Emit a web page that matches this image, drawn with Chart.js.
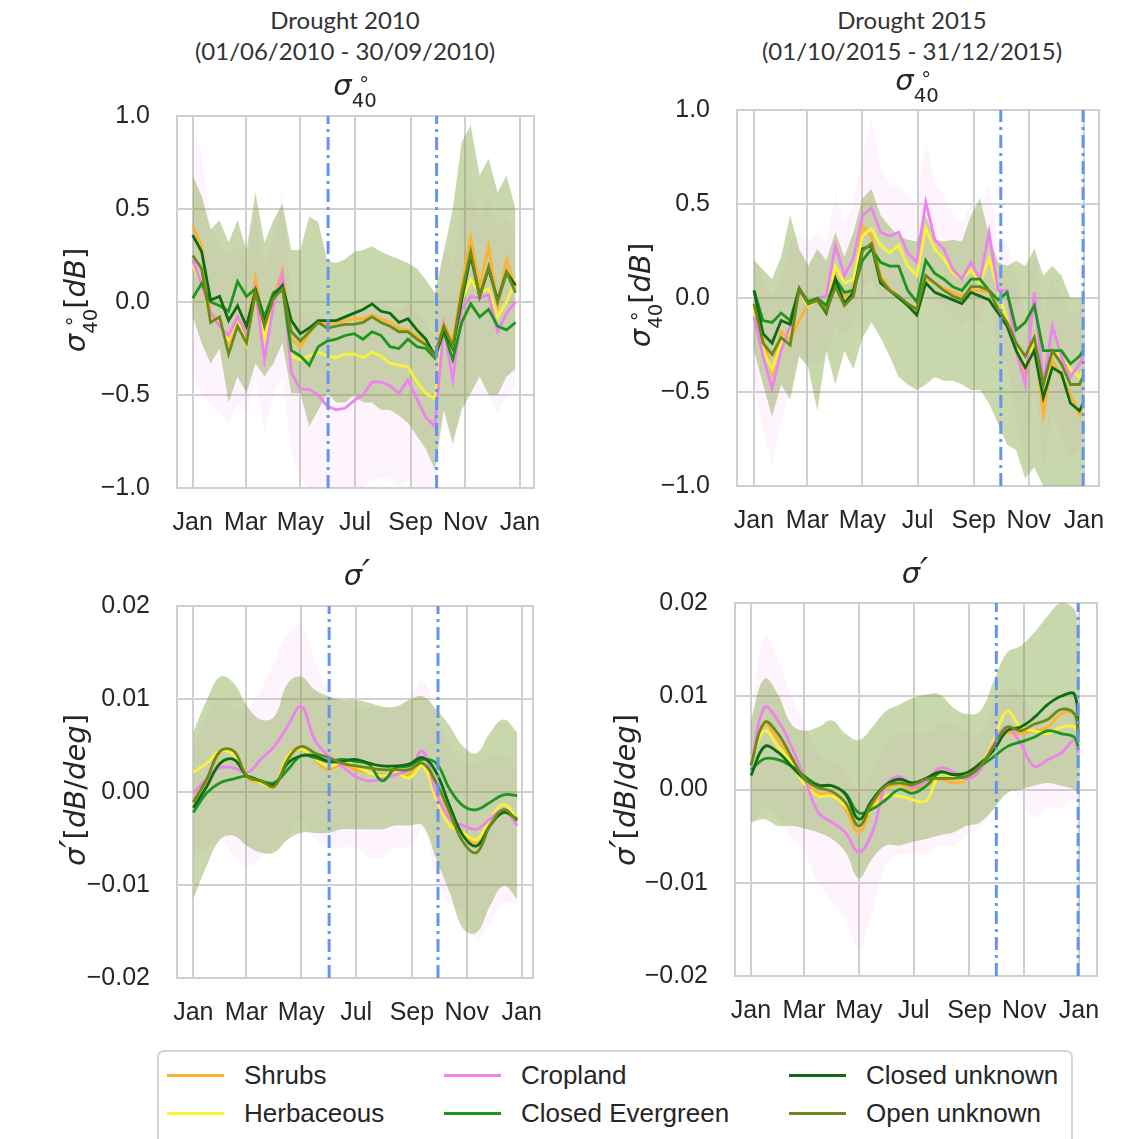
<!DOCTYPE html>
<html>
<head>
<meta charset="utf-8">
<script src="https://cdn.jsdelivr.net/npm/chart.js@4.4.1/dist/chart.umd.min.js"></script>
<style>
  body { margin: 0; background: #fff; }
  #page { position: relative; width: 1127px; height: 1139px; overflow: hidden; background: #fff;
          font-family: "Liberation Sans", Arial, sans-serif; color: #262626; }
  canvas { position: absolute; z-index: 1; }
  .head { position: absolute; width: 400px; text-align: center; z-index: 2;
          font-family: Lato, "Open Sans", sans-serif; font-weight: 400; font-size: 24px; line-height: 31px; color: #333; }
  .ptitle { position: absolute; width: 200px; text-align: center; z-index: 2;
            font-family: "DejaVu Sans", sans-serif; font-size: 29px; line-height: 34px; }
  .ylab { position: absolute; width: 300px; height: 36px; line-height: 36px; text-align: center; z-index: 2;
          font-family: "DejaVu Sans", sans-serif; font-size: 29px; transform: rotate(-90deg); }
  .ss { display: inline-block; font-style: normal; font-size: 0.68em; line-height: 0.8em;
        vertical-align: -0.62em; text-align: center; }
  .ss > span { display: block; }
  .pr { font-size: 1.25em; line-height: 0; }
  #legend { position: absolute; left: 157px; top: 1050px; width: 916px; height: 110px; z-index: 2;
            border: 2px solid #d4d4d4; border-radius: 7px; box-sizing: border-box; }
  .lg-line { position: absolute; width: 57px; height: 3px; }
  .lg-text { position: absolute; font-size: 26px; line-height: 30px; color: #262626; }
</style>
</head>
<body>
<div id="page">
  <div class="head" style="left:145px;top:4px">Drought 2010<br>(01/06/2010 - 30/09/2010)</div>
  <div class="head" style="left:712px;top:4px">Drought 2015<br>(01/10/2015 - 31/12/2015)</div>

  <div class="ptitle" style="left:255px;top:68px"><i>σ</i><span class="ss"><span>°</span><span>40</span></span></div>
  <div class="ptitle" style="left:817px;top:63px"><i>σ</i><span class="ss"><span>°</span><span>40</span></span></div>
  <div class="ptitle" style="left:257px;top:558px"><i>σ<span class="pr">′</span></i></div>
  <div class="ptitle" style="left:815px;top:556px"><i>σ<span class="pr">′</span></i></div>

  <div class="ylab" style="left:-75px;top:282px"><i>σ</i><span class="ss"><span>°</span><span>40</span></span>[<i>dB</i>]</div>
  <div class="ylab" style="left:490px;top:277px"><i>σ</i><span class="ss"><span>°</span><span>40</span></span>[<i>dB</i>]</div>
  <div class="ylab" style="left:-75px;top:772px"><i>σ<span class="pr">′</span></i>[<i>dB</i>/<i>deg</i>]</div>
  <div class="ylab" style="left:475px;top:772px"><i>σ<span class="pr">′</span></i>[<i>dB</i>/<i>deg</i>]</div>

  <div id="legend"></div>
</div>

<script>
// land cover classes
const classes = ['Shrubs', 'Herbaceous', 'Cropland', 'Closed Evergreen', 'Closed unknown', 'Open unknown'];
const classColors = ['#FDB32F', '#F8F33A', '#EE82EE', '#1E961E', '#0F6B12', '#6B8A1C'];

// month ticks (day of year)
const monthNames = ['Jan', 'Mar', 'May', 'Jul', 'Sep', 'Nov', 'Jan'];
const monthDays = [0, 59, 120, 181, 243, 304, 365];
const yTicksSigma = [-1, -0.5, 0, 0.5, 1];
const yTicksSlope = [-0.02, -0.01, 0, 0.01, 0.02];

// drought periods (day of year)
const drought2010 = [151, 272];
const drought2015 = [273, 364];

// sample days
const daysTop2010 = [0,10,20,30,40,50,60,70,80,90,100,110,120,130,140,150,160,170,180,190,200,210,220,230,240,250,260,270,280,290,300,310,320,330,340,350,360];
const daysTop2015 = [0,10,20,30,40,50,60,70,80,90,100,110,120,130,140,150,160,170,180,190,200,210,220,230,240,250,260,270,280,290,300,310,320,330,340,350,360,364];
const daysBot2010 = [0,15,30,45,60,75,90,105,120,135,150,165,180,195,210,225,240,255,270,285,300,315,330,345,360];
const daysBot2015 = [0,15,30,45,60,75,90,105,120,135,150,165,180,195,210,225,240,255,270,285,300,315,330,345,360,364];

// sigma40 2010
const tlShrubs = [0.41,0.30,-0.06,-0.10,-0.22,-0.08,-0.16,0.13,-0.14,0.02,0.17,-0.20,-0.24,-0.17,-0.10,-0.12,-0.11,-0.10,-0.09,-0.09,-0.07,-0.09,-0.11,-0.14,-0.15,-0.18,-0.23,-0.28,-0.11,-0.22,0.09,0.35,0.08,0.30,-0.02,0.23,0.07];
const tlHerb = [0.20,0.09,-0.09,-0.11,-0.20,-0.09,-0.23,0.06,-0.20,0.00,0.12,-0.29,-0.31,-0.29,-0.27,-0.29,-0.30,-0.28,-0.28,-0.30,-0.27,-0.29,-0.33,-0.34,-0.35,-0.43,-0.49,-0.52,-0.14,-0.31,0.01,0.12,0.05,0.07,-0.08,0.00,0.12];
const tlCrop = [0.23,0.09,-0.06,-0.13,-0.18,-0.08,-0.17,0.07,-0.31,-0.02,0.15,-0.38,-0.47,-0.47,-0.50,-0.56,-0.58,-0.57,-0.53,-0.50,-0.43,-0.43,-0.45,-0.49,-0.42,-0.52,-0.62,-0.67,-0.13,-0.42,-0.04,0.03,0.02,0.04,-0.16,-0.06,0.00];
const tlClosedEv = [0.02,0.10,0.00,-0.02,-0.05,0.11,0.03,0.07,-0.08,0.05,0.08,-0.26,-0.29,-0.34,-0.24,-0.21,-0.20,-0.18,-0.17,-0.20,-0.16,-0.18,-0.24,-0.25,-0.20,-0.24,-0.25,-0.30,-0.16,-0.31,-0.11,-0.01,-0.08,-0.04,-0.13,-0.15,-0.11];
const tlClosedUnk = [0.36,0.27,0.01,0.03,-0.10,-0.02,-0.13,0.06,-0.11,0.03,0.09,-0.10,-0.17,-0.14,-0.10,-0.10,-0.10,-0.08,-0.06,-0.04,-0.01,-0.05,-0.06,-0.11,-0.09,-0.15,-0.20,-0.29,-0.15,-0.25,0.01,0.25,0.03,0.18,0.01,0.16,0.09];
const tlOpenUnk = [0.25,0.18,-0.11,-0.08,-0.28,-0.13,-0.22,0.05,-0.13,0.02,0.07,-0.16,-0.21,-0.16,-0.11,-0.14,-0.13,-0.12,-0.12,-0.11,-0.08,-0.11,-0.13,-0.16,-0.16,-0.20,-0.23,-0.29,-0.13,-0.24,0.05,0.27,0.03,0.19,0.00,0.16,0.05];
const tlBandHi = [0.68,0.57,0.39,0.44,0.32,0.44,0.28,0.59,0.32,0.44,0.53,0.28,0.28,0.46,0.43,0.22,0.21,0.23,0.27,0.28,0.30,0.27,0.25,0.23,0.21,0.18,0.12,0.05,0.27,0.50,0.86,0.95,0.68,0.77,0.59,0.68,0.50];
const tlBandLo = [-0.08,-0.22,-0.33,-0.25,-0.54,-0.40,-0.49,-0.33,-0.40,-0.33,-0.22,-0.49,-0.49,-0.67,-0.58,-0.49,-0.54,-0.54,-0.50,-0.54,-0.54,-0.58,-0.58,-0.61,-0.65,-0.72,-0.79,-0.90,-0.58,-0.76,-0.58,-0.49,-0.40,-0.50,-0.50,-0.40,-0.36];
const tlPinkHi = [0.95,0.80,0.40,0.30,0.25,0.30,0.20,0.50,0.20,0.35,0.60,0.05,-0.05,-0.05,-0.05,-0.10,-0.10,-0.10,-0.05,-0.05,0.00,0.00,-0.02,-0.05,0.00,-0.05,-0.10,-0.20,0.30,0.20,0.50,0.60,0.45,0.55,0.40,0.45,0.35];
const tlPinkLo = [-0.40,-0.50,-0.55,-0.60,-0.65,-0.55,-0.60,-0.40,-0.70,-0.50,-0.40,-0.80,-0.95,-1.00,-1.00,-1.00,-1.00,-1.00,-1.00,-1.00,-0.95,-0.95,-0.95,-1.00,-0.95,-1.00,-1.00,-1.00,-0.60,-0.80,-0.50,-0.50,-0.50,-0.50,-0.60,-0.50,-0.45];

// sigma40 2015
const trShrubs = [-0.04,-0.21,-0.40,-0.18,-0.22,-0.12,-0.03,-0.02,-0.06,0.12,0.00,0.06,0.38,0.33,0.12,0.05,0.01,-0.04,-0.07,0.10,0.08,0.05,0.03,0.01,0.04,0.04,0.03,-0.05,-0.12,-0.28,-0.42,-0.21,-0.62,-0.33,-0.42,-0.51,-0.62,-0.56];
const trHerb = [-0.06,-0.28,-0.38,-0.24,-0.18,0.03,-0.04,-0.01,-0.04,0.17,0.08,0.10,0.33,0.37,0.28,0.24,0.28,0.17,0.12,0.37,0.26,0.21,0.13,0.10,0.15,0.08,0.21,0.04,-0.12,-0.26,-0.37,-0.21,-0.46,-0.28,-0.31,-0.38,-0.42,-0.38];
const trCrop = [-0.10,-0.31,-0.48,-0.28,-0.15,0.03,-0.02,0.00,0.01,0.28,0.12,0.21,0.44,0.48,0.35,0.33,0.35,0.24,0.19,0.51,0.31,0.26,0.15,0.10,0.19,0.10,0.35,0.04,0.04,-0.28,-0.46,0.03,-0.46,-0.15,-0.31,-0.42,-0.35,-0.31];
const trClosedEv = [0.04,-0.12,-0.13,-0.08,-0.12,0.05,-0.02,0.00,-0.04,0.10,0.03,0.04,0.20,0.26,0.19,0.17,0.17,0.04,-0.02,0.20,0.13,0.10,0.06,0.04,0.10,0.10,0.04,-0.01,0.03,-0.17,-0.13,-0.04,-0.28,-0.28,-0.28,-0.35,-0.31,-0.28];
const trClosedUnk = [0.04,-0.19,-0.24,-0.12,-0.14,0.05,-0.03,-0.01,-0.08,0.10,-0.03,0.03,0.26,0.28,0.08,0.04,0.00,-0.04,-0.09,0.08,0.03,0.01,-0.01,-0.03,0.03,0.01,-0.01,-0.08,-0.15,-0.28,-0.37,-0.28,-0.53,-0.37,-0.40,-0.56,-0.60,-0.56];
const trOpenUnk = [-0.03,-0.24,-0.30,-0.21,-0.25,0.05,-0.03,-0.01,-0.07,0.06,-0.04,0.01,0.25,0.29,0.10,0.04,0.01,-0.03,-0.06,0.12,0.08,0.04,0.01,-0.01,0.06,0.06,0.04,-0.06,-0.13,-0.24,-0.31,-0.21,-0.46,-0.28,-0.35,-0.46,-0.46,-0.42];
const trBandHi = [0.20,0.15,0.10,0.22,0.44,0.26,0.17,0.26,0.20,0.35,0.22,0.35,0.53,0.58,0.44,0.38,0.33,0.31,0.30,0.44,0.31,0.30,0.31,0.30,0.44,0.53,0.33,0.19,0.17,0.20,0.17,0.26,0.12,0.17,0.12,0.00,0.00,0.00];
const trBandLo = [-0.28,-0.46,-0.63,-0.46,-0.54,-0.31,-0.37,-0.60,-0.28,-0.46,-0.28,-0.38,-0.21,-0.13,-0.21,-0.31,-0.42,-0.46,-0.49,-0.46,-0.42,-0.44,-0.44,-0.46,-0.49,-0.49,-0.56,-0.67,-0.78,-0.81,-0.96,-0.90,-1.00,-1.00,-1.00,-1.00,-1.00,-1.00];
const trPinkHi = [0.25,0.10,0.00,0.10,0.30,0.35,0.30,0.35,0.30,0.55,0.40,0.50,0.75,0.95,0.70,0.60,0.60,0.55,0.50,0.85,0.60,0.55,0.45,0.40,0.50,0.45,0.60,0.30,0.30,0.10,-0.10,0.30,-0.10,0.10,0.00,-0.10,-0.05,0.00];
const trPinkLo = [-0.45,-0.70,-0.90,-0.65,-0.50,-0.30,-0.35,-0.35,-0.30,-0.15,-0.20,-0.15,0.05,0.10,0.00,0.00,0.00,-0.05,-0.10,0.15,0.00,-0.05,-0.10,-0.15,-0.10,-0.15,0.05,-0.30,-0.35,-0.65,-0.85,-0.40,-0.90,-0.60,-0.75,-0.85,-0.80,-0.75];

// sigma' 2010
const blShrubs = [-0.0010,0.0012,0.0042,0.0042,0.0015,0.0010,0.0005,0.0039,0.0048,0.0035,0.0024,0.0030,0.0024,0.0021,0.0019,0.0019,0.0019,0.0028,-0.0001,-0.0029,-0.0044,-0.0056,-0.0033,-0.0019,-0.0031];
const blHerb = [0.0021,0.0031,0.0044,0.0040,0.0019,0.0010,0.0006,0.0039,0.0046,0.0036,0.0028,0.0031,0.0028,0.0021,0.0017,0.0021,0.0015,0.0028,-0.0008,-0.0036,-0.0044,-0.0051,-0.0029,-0.0013,-0.0029];
const blCrop = [-0.0001,0.0014,0.0026,0.0026,0.0021,0.0035,0.0049,0.0071,0.0092,0.0056,0.0039,0.0028,0.0017,0.0012,0.0014,0.0019,0.0024,0.0044,-0.0001,-0.0029,-0.0036,-0.0040,-0.0029,-0.0019,-0.0036];
const blClosedEv = [-0.0022,-0.0001,0.0010,0.0014,0.0017,0.0012,0.0010,0.0024,0.0039,0.0037,0.0033,0.0035,0.0033,0.0030,0.0012,0.0026,0.0028,0.0035,0.0031,0.0003,-0.0015,-0.0019,-0.0011,-0.0003,-0.0004];
const blClosedUnk = [-0.0017,0.0006,0.0031,0.0035,0.0017,0.0012,0.0008,0.0031,0.0039,0.0039,0.0033,0.0033,0.0035,0.0031,0.0028,0.0028,0.0030,0.0037,0.0021,-0.0015,-0.0047,-0.0058,-0.0036,-0.0022,-0.0029];
const blOpenUnk = [-0.0011,0.0014,0.0044,0.0044,0.0017,0.0012,0.0006,0.0035,0.0049,0.0042,0.0037,0.0031,0.0028,0.0026,0.0024,0.0024,0.0024,0.0031,0.0010,-0.0022,-0.0054,-0.0065,-0.0036,-0.0019,-0.0031];
const blBandHi = [0.0064,0.0099,0.0124,0.0117,0.0092,0.0078,0.0081,0.0117,0.0124,0.0110,0.0103,0.0099,0.0099,0.0096,0.0092,0.0092,0.0099,0.0103,0.0089,0.0071,0.0049,0.0042,0.0064,0.0078,0.0064];
const blBandLo = [-0.0115,-0.0079,-0.0051,-0.0047,-0.0058,-0.0065,-0.0065,-0.0051,-0.0044,-0.0044,-0.0044,-0.0040,-0.0040,-0.0040,-0.0040,-0.0036,-0.0036,-0.0036,-0.0072,-0.0108,-0.0147,-0.0151,-0.0122,-0.0101,-0.0115];
const blPinkHi = [0.005,0.008,0.010,0.009,0.009,0.011,0.014,0.017,0.018,0.014,0.011,0.010,0.009,0.009,0.009,0.009,0.010,0.012,0.008,0.005,0.003,0.003,0.004,0.004,0.003];
const blPinkLo = [-0.007,-0.006,-0.005,-0.007,-0.008,-0.007,-0.006,-0.005,-0.003,-0.005,-0.006,-0.006,-0.006,-0.007,-0.007,-0.006,-0.006,-0.004,-0.009,-0.012,-0.013,-0.016,-0.014,-0.012,-0.012];

// sigma' 2015
const brShrubs = [0.0028,0.0070,0.0053,0.0032,0.0007,-0.0004,-0.0005,-0.0021,-0.0046,-0.0018,0.0000,0.0005,0.0000,0.0004,0.0011,0.0007,0.0011,0.0025,0.0049,0.0060,0.0060,0.0063,0.0067,0.0081,0.0081,0.0060];
const brHerb = [0.0030,0.0063,0.0046,0.0028,0.0005,-0.0007,-0.0007,-0.0018,-0.0032,-0.0021,-0.0007,-0.0007,-0.0011,-0.0012,0.0016,0.0014,0.0011,0.0025,0.0053,0.0084,0.0067,0.0063,0.0060,0.0067,0.0067,0.0060];
const brCrop = [0.0025,0.0088,0.0074,0.0046,0.0011,-0.0025,-0.0035,-0.0046,-0.0067,-0.0046,0.0004,0.0014,0.0002,0.0009,0.0023,0.0019,0.0011,0.0021,0.0049,0.0067,0.0049,0.0025,0.0032,0.0039,0.0053,0.0039];
const brClosedEv = [0.0021,0.0033,0.0032,0.0025,0.0014,0.0005,0.0004,-0.0004,-0.0025,-0.0021,-0.0011,0.0000,-0.0004,0.0004,0.0018,0.0016,0.0014,0.0025,0.0035,0.0046,0.0051,0.0056,0.0063,0.0060,0.0056,0.0046];
const brClosedUnk = [0.0015,0.0046,0.0040,0.0025,0.0011,0.0004,0.0004,-0.0005,-0.0032,-0.0011,0.0005,0.0011,0.0007,0.0012,0.0019,0.0016,0.0018,0.0028,0.0042,0.0063,0.0067,0.0077,0.0091,0.0100,0.0102,0.0060];
const brOpenUnk = [0.0026,0.0072,0.0060,0.0035,0.0011,0.0002,-0.0002,-0.0014,-0.0039,-0.0014,0.0004,0.0007,0.0005,0.0011,0.0012,0.0012,0.0014,0.0025,0.0046,0.0067,0.0063,0.0070,0.0075,0.0086,0.0081,0.0056];
const brBandHi = [0.0074,0.0119,0.0102,0.0070,0.0063,0.0067,0.0074,0.0060,0.0053,0.0067,0.0084,0.0091,0.0098,0.0102,0.0102,0.0088,0.0081,0.0084,0.0116,0.0147,0.0154,0.0168,0.0186,0.0200,0.0193,0.0170];
const brBandLo = [-0.0035,-0.0032,-0.0039,-0.0039,-0.0042,-0.0046,-0.0053,-0.0067,-0.0095,-0.0074,-0.0060,-0.0060,-0.0056,-0.0053,-0.0049,-0.0046,-0.0039,-0.0035,-0.0021,-0.0004,0.0000,0.0004,0.0007,0.0004,0.0000,-0.0005];
const brPinkHi = [0.008,0.0165,0.014,0.010,0.007,0.004,0.003,0.002,0.000,0.002,0.005,0.006,0.006,0.006,0.007,0.007,0.006,0.006,0.009,0.011,0.010,0.008,0.008,0.009,0.010,0.008];
const brPinkLo = [-0.004,-0.002,-0.003,-0.005,-0.007,-0.010,-0.012,-0.014,-0.017,-0.013,-0.008,-0.007,-0.007,-0.007,-0.006,-0.006,-0.005,-0.004,-0.002,0.000,-0.001,-0.003,-0.002,-0.002,-0.001,-0.002];

const Y_AXIS_W = 150;
const X_AXIS_H = 55;
const PAD = 20;

const panels = [
    { days: daysTop2010, series: [tlShrubs, tlHerb, tlCrop, tlClosedEv, tlClosedUnk, tlOpenUnk],
      band: [tlBandHi, tlBandLo], pink: [tlPinkHi, tlPinkLo], drought: drought2010,
      yTicks: yTicksSigma, digits: 1, tension: 0, area: { l: 177, t: 116, r: 534, b: 488 }, xMin: -17.5, xMax: 380.6 },
    { days: daysTop2015, series: [trShrubs, trHerb, trCrop, trClosedEv, trClosedUnk, trOpenUnk],
      band: [trBandHi, trBandLo], pink: [trPinkHi, trPinkLo], drought: drought2015,
      yTicks: yTicksSigma, digits: 1, tension: 0, area: { l: 737, t: 110, r: 1099, b: 486 }, xMin: -18.8, xMax: 381.6 },
    { days: daysBot2010, series: [blShrubs, blHerb, blCrop, blClosedEv, blClosedUnk, blOpenUnk],
      band: [blBandHi, blBandLo], pink: [blPinkHi, blPinkLo], drought: drought2010,
      yTicks: yTicksSlope, digits: 2, tension: 0.4, area: { l: 177, t: 606, r: 533, b: 978 }, xMin: -18.1, xMax: 377.6 },
    { days: daysBot2015, series: [brShrubs, brHerb, brCrop, brClosedEv, brClosedUnk, brOpenUnk],
      band: [brBandHi, brBandLo], pink: [brPinkHi, brPinkLo], drought: drought2015,
      yTicks: yTicksSlope, digits: 2, tension: 0.4, area: { l: 735, t: 603, r: 1097, b: 976 }, xMin: -17.8, xMax: 385 }
];

// grey frame round the plot area
const framePlugin = {
    id: 'frame',
    beforeDatasetsDraw(chart) {
        const a = chart.chartArea;
        const ctx = chart.ctx;
        ctx.save();
        ctx.strokeStyle = '#cfcfcf';
        ctx.lineWidth = 2;
        ctx.strokeRect(a.left, a.top, a.right - a.left, a.bottom - a.top);
        ctx.restore();
    }
};

function points(days, vals) {
    return days.map((d, i) => ({ x: d, y: vals[i] }));
}

function bandSets(days, hi, lo, color, order, tension) {
    return [
        { data: points(days, hi), borderColor: 'transparent', borderWidth: 0, pointRadius: 0,
          fill: '+1', backgroundColor: color, order: order, tension: tension },
        { data: points(days, lo), borderColor: 'transparent', borderWidth: 0, pointRadius: 0,
          fill: false, order: order + 1, tension: tension }
    ];
}

function makePanel(p) {
    const yMin = p.yTicks[0];
    const yMax = p.yTicks[p.yTicks.length - 1];
    const canvas = document.createElement('canvas');
    canvas.width = (p.area.r - p.area.l) + Y_AXIS_W + PAD;
    canvas.height = (p.area.b - p.area.t) + PAD + X_AXIS_H;
    canvas.style.left = (p.area.l - Y_AXIS_W) + 'px';
    canvas.style.top = (p.area.t - PAD) + 'px';
    document.getElementById('page').appendChild(canvas);

    const datasets = [];
    datasets.push(...bandSets(p.days, p.pink[0], p.pink[1], 'rgba(238,130,238,0.09)', 40, p.tension));
    datasets.push(...bandSets(p.days, p.band[0], p.band[1], 'rgba(120,155,50,0.40)', 30, p.tension));

    p.series.forEach((vals, i) => {
        datasets.push({
            label: classes[i],
            data: points(p.days, vals),
            borderColor: classColors[i],
            borderWidth: 2.8,
            pointRadius: 0,
            fill: false,
            tension: p.tension,
            order: 16 - i
        });
    });

    p.drought.forEach(d => {
        datasets.push({
            data: [{ x: d, y: yMin }, { x: d, y: yMax }],
            borderColor: '#6495ED',
            borderWidth: 3,
            borderDash: [13, 5, 3, 5],
            pointRadius: 0,
            fill: false,
            order: 0
        });
    });

    const tickFont = { family: '"Liberation Sans", Arial, sans-serif', size: 25 };

    return new Chart(canvas.getContext('2d'), {
        type: 'line',
        data: { datasets: datasets },
        options: {
            responsive: false,
            animation: false,
            devicePixelRatio: 1,
            layout: { padding: { top: PAD, right: PAD, left: 0, bottom: 0 } },
            plugins: { legend: { display: false }, tooltip: { enabled: false } },
            scales: {
                x: {
                    type: 'linear',
                    min: p.xMin,
                    max: p.xMax,
                    afterBuildTicks: s => { s.ticks = monthDays.map(v => ({ value: v })); },
                    afterFit: s => {
                        s.height = X_AXIS_H;
                        s.paddingLeft = 0;
                        s.paddingRight = 0;
                    },
                    ticks: {
                        autoSkip: false, maxRotation: 0, padding: 20,
                        font: tickFont, color: '#262626',
                        callback: (v, i) => monthNames[i]
                    },
                    grid: { color: '#d0d0d0', lineWidth: 2, drawTicks: false },
                    border: { display: false }
                },
                y: {
                    min: yMin,
                    max: yMax,
                    afterBuildTicks: s => { s.ticks = p.yTicks.map(v => ({ value: v })); },
                    afterFit: s => {
                        s.width = Y_AXIS_W;
                        s.paddingTop = 0;
                        s.paddingBottom = 0;
                    },
                    ticks: {
                        padding: 27, font: tickFont, color: '#262626',
                        callback: v => (v < 0 ? '\u2212' : '') + Math.abs(v).toFixed(p.digits)
                    },
                    grid: { color: '#d0d0d0', lineWidth: 2, drawTicks: false },
                    border: { display: false }
                }
            }
        },
        plugins: [framePlugin]
    });
}

panels.forEach(makePanel);

// legend: 3 columns, 2 rows
const legend = document.getElementById('legend');
const colLine = [8, 285, 630];
const colText = [85, 362, 707];
const rowY = [23, 61];
classes.forEach((name, i) => {
    const col = Math.floor(i / 2);
    const row = i % 2;
    const line = document.createElement('div');
    line.className = 'lg-line';
    line.style.left = colLine[col] + 'px';
    line.style.top = (rowY[row] - 1.5) + 'px';
    line.style.background = classColors[i];
    legend.appendChild(line);
    const text = document.createElement('div');
    text.className = 'lg-text';
    text.style.left = colText[col] + 'px';
    text.style.top = (rowY[row] - 15) + 'px';
    text.textContent = name;
    legend.appendChild(text);
});
</script>
</body>
</html>
